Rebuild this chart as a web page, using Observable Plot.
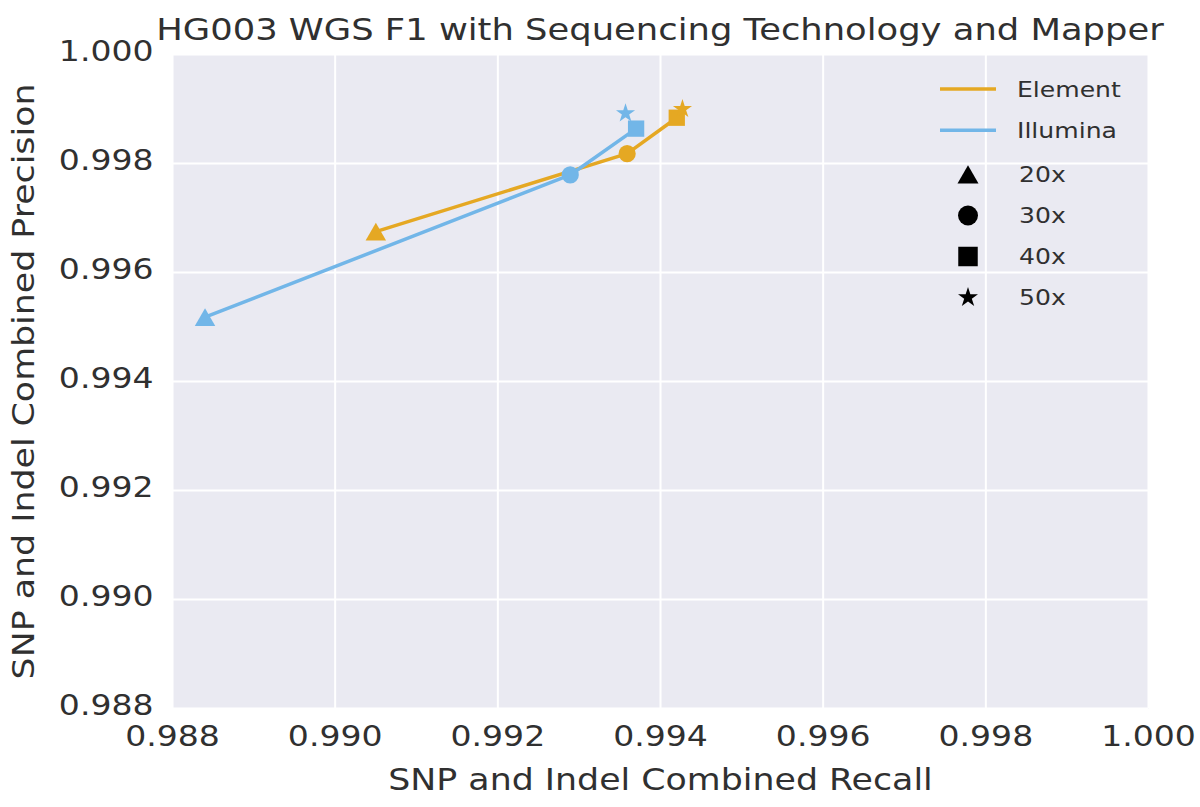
<!DOCTYPE html>
<html><head><meta charset="utf-8">
<script src="https://cdn.jsdelivr.net/npm/d3@7"></script>
<script src="https://cdn.jsdelivr.net/npm/@observablehq/plot@0.6"></script>
<style>
html,body{margin:0;padding:0;background:#fff;}
#wrap{position:relative;width:1200px;height:807px;font-family:"DejaVu Sans",sans-serif;}
#wrap svg{display:block;}
#overlay{position:absolute;left:0;top:0;pointer-events:none;}
</style></head><body><div id="wrap"></div>
<script>
// ---- data ----
const technologies = ["Element", "Illumina"];
const techColors = ["#E5A823", "#72B6E8"];
const coverages = ["20x", "30x", "40x", "50x"];
const coverageSymbols = ["triangle", "circle", "square", "star"];
const elementRecall = [0.99050, 0.99359, 0.99420, 0.99427];
const elementPrecision = [0.99675, 0.99818, 0.99884, 0.99900];
const illuminaRecall = [0.98840, 0.99289, 0.99370, 0.99357];
const illuminaPrecision = [0.99518, 0.99779, 0.99864, 0.99892];
const lineCoverages = ["20x", "30x", "40x"];
const xTicks = [0.988, 0.990, 0.992, 0.994, 0.996, 0.998, 1.000];
const yTicks = [0.988, 0.990, 0.992, 0.994, 0.996, 0.998, 1.000];
const titleText = "HG003 WGS F1 with Sequencing Technology and Mapper";
const xLabel = "SNP and Indel Combined Recall";
const yLabel = "SNP and Indel Combined Precision";

const recalls = [elementRecall, illuminaRecall];
const precisions = [elementPrecision, illuminaPrecision];
const rows = technologies.flatMap((t, i) => coverages.map((c, j) => ({
  tech: t, coverage: c, recall: recalls[i][j], precision: precisions[i][j]
})));
const lineRows = rows.filter(d => lineCoverages.includes(d.coverage));

// marker styling per symbol (sizes only)
const symStyle = {
  triangle: {r: 7.6, dy: 3},
  circle: {r: 8.6, dy: 0},
  square: {r: 9.2, dy: 0},
  star: {r: 6.0, dy: 0}
};

const fmt = d3.format(".3f");
const ink = "#303030";

const dotMarks = coverages.map((c, j) => {
  const s = coverageSymbols[j];
  return Plot.dot(rows.filter(d => d.coverage === c), {
    x: "recall", y: "precision", fill: "tech", symbol: () => s,
    r: symStyle[s].r, dy: symStyle[s].dy, stroke: "none"
  });
});

const chart = Plot.plot({
  width: 1200, height: 807,
  marginLeft: 172, marginRight: 52, marginTop: 54, marginBottom: 99,
  style: {background: "transparent", fontFamily: "DejaVu Sans, sans-serif", color: ink, overflow: "visible"},
  x: {domain: [xTicks[0], xTicks[xTicks.length - 1]]},
  y: {domain: [yTicks[0], yTicks[yTicks.length - 1]]},
  color: {domain: technologies, range: techColors},
  symbol: {domain: coverageSymbols, range: coverageSymbols},
  marks: [
    Plot.frame({fill: "#EAEAF2", stroke: null}),
    Plot.gridX(xTicks, {stroke: "white", strokeOpacity: 1, strokeWidth: 2}),
    Plot.gridY(yTicks, {stroke: "white", strokeOpacity: 1, strokeWidth: 2}),
    Plot.axisX(xTicks, {tickSize: 0, tickPadding: 17, tickFormat: fmt, fontSize: 29,
      label: xLabel, labelAnchor: "center", labelOffset: 81, labelArrow: "none"}),
    Plot.axisY(yTicks, {tickSize: 0, tickPadding: 19, tickFormat: fmt, fontSize: 29, dy: -3,
      label: yLabel, labelAnchor: "center", labelOffset: 160, labelArrow: "none"}),
    Plot.line(lineRows.filter(d => d.tech === technologies[0]), {x: "recall", y: "precision", stroke: "tech", strokeWidth: 3.5}),
    Plot.line(lineRows.filter(d => d.tech === technologies[1]), {x: "recall", y: "precision", stroke: "tech", strokeWidth: 3.5}),
    ...dotMarks
  ]
});

const wrap = document.getElementById("wrap");
wrap.appendChild(chart);
chart.querySelectorAll("g[aria-label='x-axis label'] text, g[aria-label='y-axis label'] text").forEach(t => t.style.fontSize = "30.5px");
chart.querySelectorAll("g[aria-label='x-axis label'], g[aria-label='y-axis label']").forEach(g => g.setAttribute("font-size", "30.5"));

// ---- overlay: title and legend ----
const ov = d3.select(wrap).append("svg").attr("id", "overlay")
  .attr("width", 1200).attr("height", 807)
  .attr("font-family", "DejaVu Sans, sans-serif");
ov.append("text").attr("x", 660).attr("y", 40).attr("text-anchor", "middle")
  .attr("font-size", 31).attr("fill", ink).text(titleText);

const leg = ov.append("g").attr("font-size", 22).attr("fill", ink);
technologies.forEach((t, i) => {
  const y = 89 + i * 41.2;
  leg.append("line").attr("x1", 940).attr("x2", 996).attr("y1", y).attr("y2", y)
    .attr("stroke", techColors[i]).attr("stroke-width", 3.5);
  leg.append("text").attr("x", 1017).attr("y", y).attr("dy", "0.36em").text(t);
});
const legSizes = {triangle: [191, 3], circle: [314, 0], square: [380, 0], star: [124, 0]};
const d3sym = {triangle: d3.symbolTriangle, circle: d3.symbolCircle, square: d3.symbolSquare, star: d3.symbolStar};
coverages.forEach((c, j) => {
  const s = coverageSymbols[j];
  const y = 174.5 + j * 41;
  leg.append("path").attr("transform", `translate(968,${y + legSizes[s][1]})`)
    .attr("d", d3.symbol(d3sym[s], legSizes[s][0])()).attr("fill", "#000");
  leg.append("text").attr("x", 1019).attr("y", y).attr("dy", "0.36em").text(c);
});

// horizontal widening of the text to match the reference's lettering
function stretch(root, k) {
  root.querySelectorAll("text").forEach(t => {
    const L = t.getComputedTextLength();
    if (L > 0) { t.setAttribute("textLength", L * k); t.setAttribute("lengthAdjust", "spacingAndGlyphs"); }
  });
}
stretch(chart, 1.14);
stretch(ov.node(), 1.14);
</script></body></html>
